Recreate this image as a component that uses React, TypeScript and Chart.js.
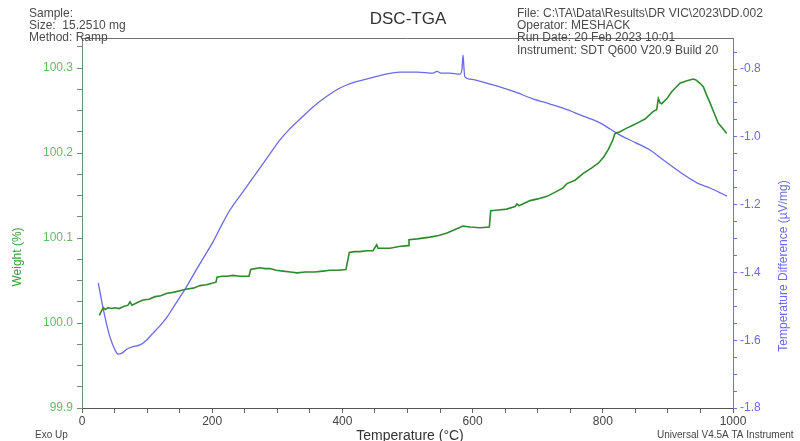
import React, { useEffect, useRef } from "react";
import { Chart, registerables } from "chart.js";

Chart.register(...registerables);

// TGA weight (%) against temperature (°C)
const weightTemp = [
  26.6, 29.2, 32.7, 36, 39.9, 45, 50.7, 57, 63, 70.7, 73.7, 76.8, 85, 93.7, 103, 112.1, 121, 130.6, 140,
  150.5, 161.3, 171, 181.3, 191, 201.2, 205.8, 207.4, 215, 222.7, 232, 242.7, 256.5, 259.1, 266, 273.4,
  281, 288.8, 298, 308.8, 320, 330.3, 343, 357.9, 370, 380.9, 394, 405.5, 410.6, 418, 427, 437, 447,
  452.7, 454.7, 463, 473.1, 487, 500.8, 502.3, 515, 534.6, 548, 560.7, 573, 585.3, 596, 611.4, 625.7,
  627.8, 640, 652.4, 665.1, 668.2, 671.3, 688.2, 700, 714.3, 727, 738.9, 745, 757.3, 770, 782, 793.1,
  801, 808.4, 815.2, 818.7, 826.4, 836, 846.9, 855, 864.8, 877.6, 882.8, 885.3, 888, 890.5, 898.6,
  905.8, 912, 918.6, 929.3, 939, 943.1, 949.3, 954.4, 959, 964.7, 971, 977.4, 984, 990.3,
];
const weightPct = [
  100.009, 100.013, 100.018, 100.016, 100.018, 100.017, 100.018, 100.017, 100.019, 100.021, 100.025,
  100.021, 100.024, 100.027, 100.028, 100.031, 100.032, 100.035, 100.036, 100.038, 100.04, 100.041,
  100.044, 100.045, 100.047, 100.048, 100.054, 100.055, 100.055, 100.056, 100.055, 100.055, 100.063,
  100.064, 100.065, 100.064, 100.064, 100.062, 100.061, 100.06, 100.059, 100.06, 100.06, 100.061,
  100.062, 100.062, 100.063, 100.083, 100.084, 100.084, 100.085, 100.085, 100.092, 100.088, 100.088,
  100.088, 100.09, 100.091, 100.098, 100.099, 100.101, 100.103, 100.106, 100.11, 100.114, 100.113,
  100.112, 100.113, 100.132, 100.133, 100.134, 100.137, 100.14, 100.138, 100.144, 100.146, 100.149,
  100.154, 100.159, 100.164, 100.168, 100.176, 100.182, 100.188, 100.195, 100.204, 100.215, 100.223,
  100.225, 100.229, 100.233, 100.236, 100.24, 100.249, 100.251, 100.264, 100.259, 100.258, 100.264,
  100.272, 100.277, 100.282, 100.285, 100.287, 100.286, 100.282, 100.278, 100.269, 100.259, 100.247,
  100.235, 100.229, 100.223,
];

// DSC temperature difference (µV/mg) against temperature (°C)
const dscTemp = [
  25, 32.3, 38, 43, 50.7, 55.3, 61.4, 69.1, 78, 89.1, 99, 109.1, 120, 130.6, 140, 150.5, 160, 169, 185,
  201.2, 214, 227.3, 248, 268.8, 287, 304.1, 317, 330.3, 343, 354.8, 375, 396.3, 420, 442.4, 465, 488.5,
  515, 539.2, 545.3, 551.5, 565, 580.6, 583.7, 585.3, 587, 588.3, 596, 620, 642, 668, 692.8, 720, 745,
  770, 795.7, 811, 826.4, 850, 872.5, 890, 907.8, 927, 944.7, 955, 964.7, 978, 990.8,
];
const tempDifference = [
  -1.431, -1.505, -1.555, -1.591, -1.629, -1.641, -1.638, -1.626, -1.619, -1.614, -1.6, -1.579, -1.557,
  -1.532, -1.504, -1.473, -1.444, -1.414, -1.362, -1.31, -1.262, -1.216, -1.16, -1.104, -1.055, -1.009,
  -0.981, -0.956, -0.933, -0.912, -0.882, -0.856, -0.838, -0.827, -0.816, -0.809, -0.809, -0.812, -0.807,
  -0.812, -0.812, -0.815, -0.8, -0.759, -0.805, -0.824, -0.83, -0.841, -0.853, -0.87, -0.888, -0.904,
  -0.92, -0.939, -0.959, -0.977, -0.995, -1.017, -1.039, -1.064, -1.089, -1.115, -1.136, -1.144, -1.151,
  -1.163, -1.175,
];

// Axis labels and minor tick steps
const tempTickLabels = [0, 200, 400, 600, 800, 1000];
const tempMinorStep = 50;
const weightTickLabels = [99.9, 100.0, 100.1, 100.2, 100.3];
const weightMinorStep = 0.025;
const dscTickLabels = [-1.8, -1.6, -1.4, -1.2, -1.0, -0.8];
const dscMinorStep = 0.05;

const headerLeft = ["Sample:", "Size:  15.2510 mg", "Method: Ramp"];
const headerRight = [
  "File: C:\\TA\\Data\\Results\\DR VIC\\2023\\DD.002",
  "Operator: MESHACK",
  "Run Date: 20 Feb 2023 10:01",
  "Instrument: SDT Q600 V20.9 Build 20",
];

const FONT = "'Liberation Sans', Arial, sans-serif";
const GREEN = "#2f8a2f";
const GREEN_LABEL = "#66bb66";
const BLUE = "#6a6ae6";
const BLUE_LABEL = "#6a6af0";

const W = 800;
const H = 441;
const PLOT = { left: 82, right: 733, top: 38, bottom: 408 };

const weightMin = 99.9;
const weightMax = 99.9 + (PLOT.bottom - PLOT.top) / 850;
const dscMin = -1.8;
const dscMax = -1.8 + (PLOT.bottom - PLOT.top) / 339;

function steps(from: number, to: number, step: number): number[] {
  const out: number[] = [];
  const n = Math.floor((to - from) / step + 1e-9);
  for (let i = 0; i <= n; i++) out.push(+(from + i * step).toFixed(4));
  return out;
}

function isLabelled(v: number, labels: number[]) {
  return labels.some((l) => Math.abs(l - v) < 1e-6);
}

const textPlugin = {
  id: "dscTgaText",
  afterDraw(chart: Chart) {
    const ctx = chart.ctx;
    ctx.save();
    // top frame line
    ctx.strokeStyle = "#707070";
    ctx.lineWidth = 1;
    ctx.beginPath();
    ctx.moveTo(PLOT.left, PLOT.top + 0.5);
    ctx.lineTo(PLOT.right, PLOT.top + 0.5);
    ctx.stroke();

    ctx.textBaseline = "middle";
    ctx.fillStyle = "#4a4a4a";
    ctx.font = `12px ${FONT}`;
    ctx.textAlign = "left";
    headerLeft.forEach((t, i) => ctx.fillText(t, 29, 13.5 + i * 12.3));
    headerRight.forEach((t, i) => ctx.fillText(t, 517, 13.5 + i * 12.3));

    ctx.fillStyle = "#333";
    ctx.font = `17px ${FONT}`;
    ctx.textAlign = "center";
    ctx.fillText("DSC-TGA", 408, 19);

    ctx.font = `14px ${FONT}`;
    ctx.fillText("Temperature (°C)", 410, 436);

    ctx.font = `10px ${FONT}`;
    ctx.textAlign = "left";
    ctx.fillStyle = "#444";
    ctx.fillText("Exo Up", 35, 435);
    ctx.fillText("Universal V4.5A TA Instrument", 657, 435);

    ctx.font = `12px ${FONT}`;
    ctx.textAlign = "center";
    ctx.save();
    ctx.translate(18, 257);
    ctx.rotate(-Math.PI / 2);
    ctx.fillStyle = "#3d9c3d";
    ctx.fillText("Weight (%)", 0, 0);
    ctx.restore();

    ctx.save();
    ctx.translate(784, 266);
    ctx.rotate(-Math.PI / 2);
    ctx.fillStyle = BLUE;
    ctx.fillText("Temperature Difference (µV/mg)", 0, 0);
    ctx.restore();

    ctx.restore();
  },
};

export default function App() {
  const ref = useRef<HTMLCanvasElement | null>(null);

  useEffect(() => {
    if (!ref.current) return;
    const tempTicks = steps(0, 1000, tempMinorStep);
    const weightTicks = steps(weightMin, weightMax, weightMinorStep);
    const dscTicks = steps(dscMin, dscMax, dscMinorStep);

    const chart = new Chart(ref.current, {
      type: "line",
      data: {
        datasets: [
          {
            label: "Weight (%)",
            data: weightTemp.map((t, i) => ({ x: t, y: weightPct[i] })),
            yAxisID: "y",
            borderColor: GREEN,
            borderWidth: 1.6,
            pointRadius: 0,
            tension: 0,
          },
          {
            label: "Temperature Difference (µV/mg)",
            data: dscTemp.map((t, i) => ({ x: t, y: tempDifference[i] })),
            yAxisID: "y1",
            borderColor: BLUE,
            borderWidth: 1.3,
            pointRadius: 0,
            cubicInterpolationMode: "monotone",
          },
        ],
      },
      options: {
        animation: false,
        responsive: false,
        events: [],
        layout: { padding: { top: PLOT.top, left: 0, right: 0, bottom: 0 } },
        plugins: { legend: { display: false }, tooltip: { enabled: false }, title: { display: false } },
        scales: {
          x: {
            type: "linear",
            min: 0,
            max: 1000,
            afterFit: (s: any) => {
              s.height = H - PLOT.bottom;
            },
            afterBuildTicks: (s: any) => {
              s.ticks = tempTicks.map((v) => ({ value: v }));
            },
            border: { display: true, color: "#555", width: 1 },
            grid: { drawOnChartArea: false, drawTicks: true, tickLength: 5, tickColor: "#666" },
            ticks: {
              autoSkip: false,
              maxRotation: 0,
              padding: 1,
              color: "#444",
              font: { family: FONT, size: 12 },
              callback: (v: any) => (isLabelled(+v, tempTickLabels) ? String(v) : ""),
            },
          },
          y: {
            type: "linear",
            position: "left",
            min: weightMin,
            max: weightMax,
            afterFit: (s: any) => {
              s.width = PLOT.left;
            },
            afterBuildTicks: (s: any) => {
              s.ticks = weightTicks.map((v) => ({ value: v }));
            },
            border: { display: true, color: "#6f8f6f", width: 1 },
            grid: { drawOnChartArea: false, drawTicks: true, tickLength: 5, tickColor: "#6f8f6f" },
            ticks: {
              autoSkip: false,
              padding: 4,
              color: GREEN_LABEL,
              font: { family: FONT, size: 12 },
              callback: (v: any) => (isLabelled(+v, weightTickLabels) ? (+v).toFixed(1) : ""),
            },
          },
          y1: {
            type: "linear",
            position: "right",
            min: dscMin,
            max: dscMax,
            afterFit: (s: any) => {
              s.width = W - PLOT.right;
            },
            afterBuildTicks: (s: any) => {
              s.ticks = dscTicks.map((v) => ({ value: v }));
            },
            border: { display: true, color: "#7070e0", width: 1 },
            grid: { drawOnChartArea: false, drawTicks: true, tickLength: 4, tickColor: "#7070e0" },
            ticks: {
              autoSkip: false,
              padding: 3,
              color: BLUE_LABEL,
              font: { family: FONT, size: 12 },
              callback: (v: any) => (isLabelled(+v, dscTickLabels) ? (+v).toFixed(1) : ""),
            },
          },
        },
      },
      plugins: [textPlugin],
    });
    return () => chart.destroy();
  }, []);

  return (
    <div style={{ position: "fixed", left: 0, top: 0, width: W, height: H, background: "#fff" }}>
      <canvas ref={ref} width={W} height={H} style={{ width: W, height: H, display: "block" }} />
    </div>
  );
}
